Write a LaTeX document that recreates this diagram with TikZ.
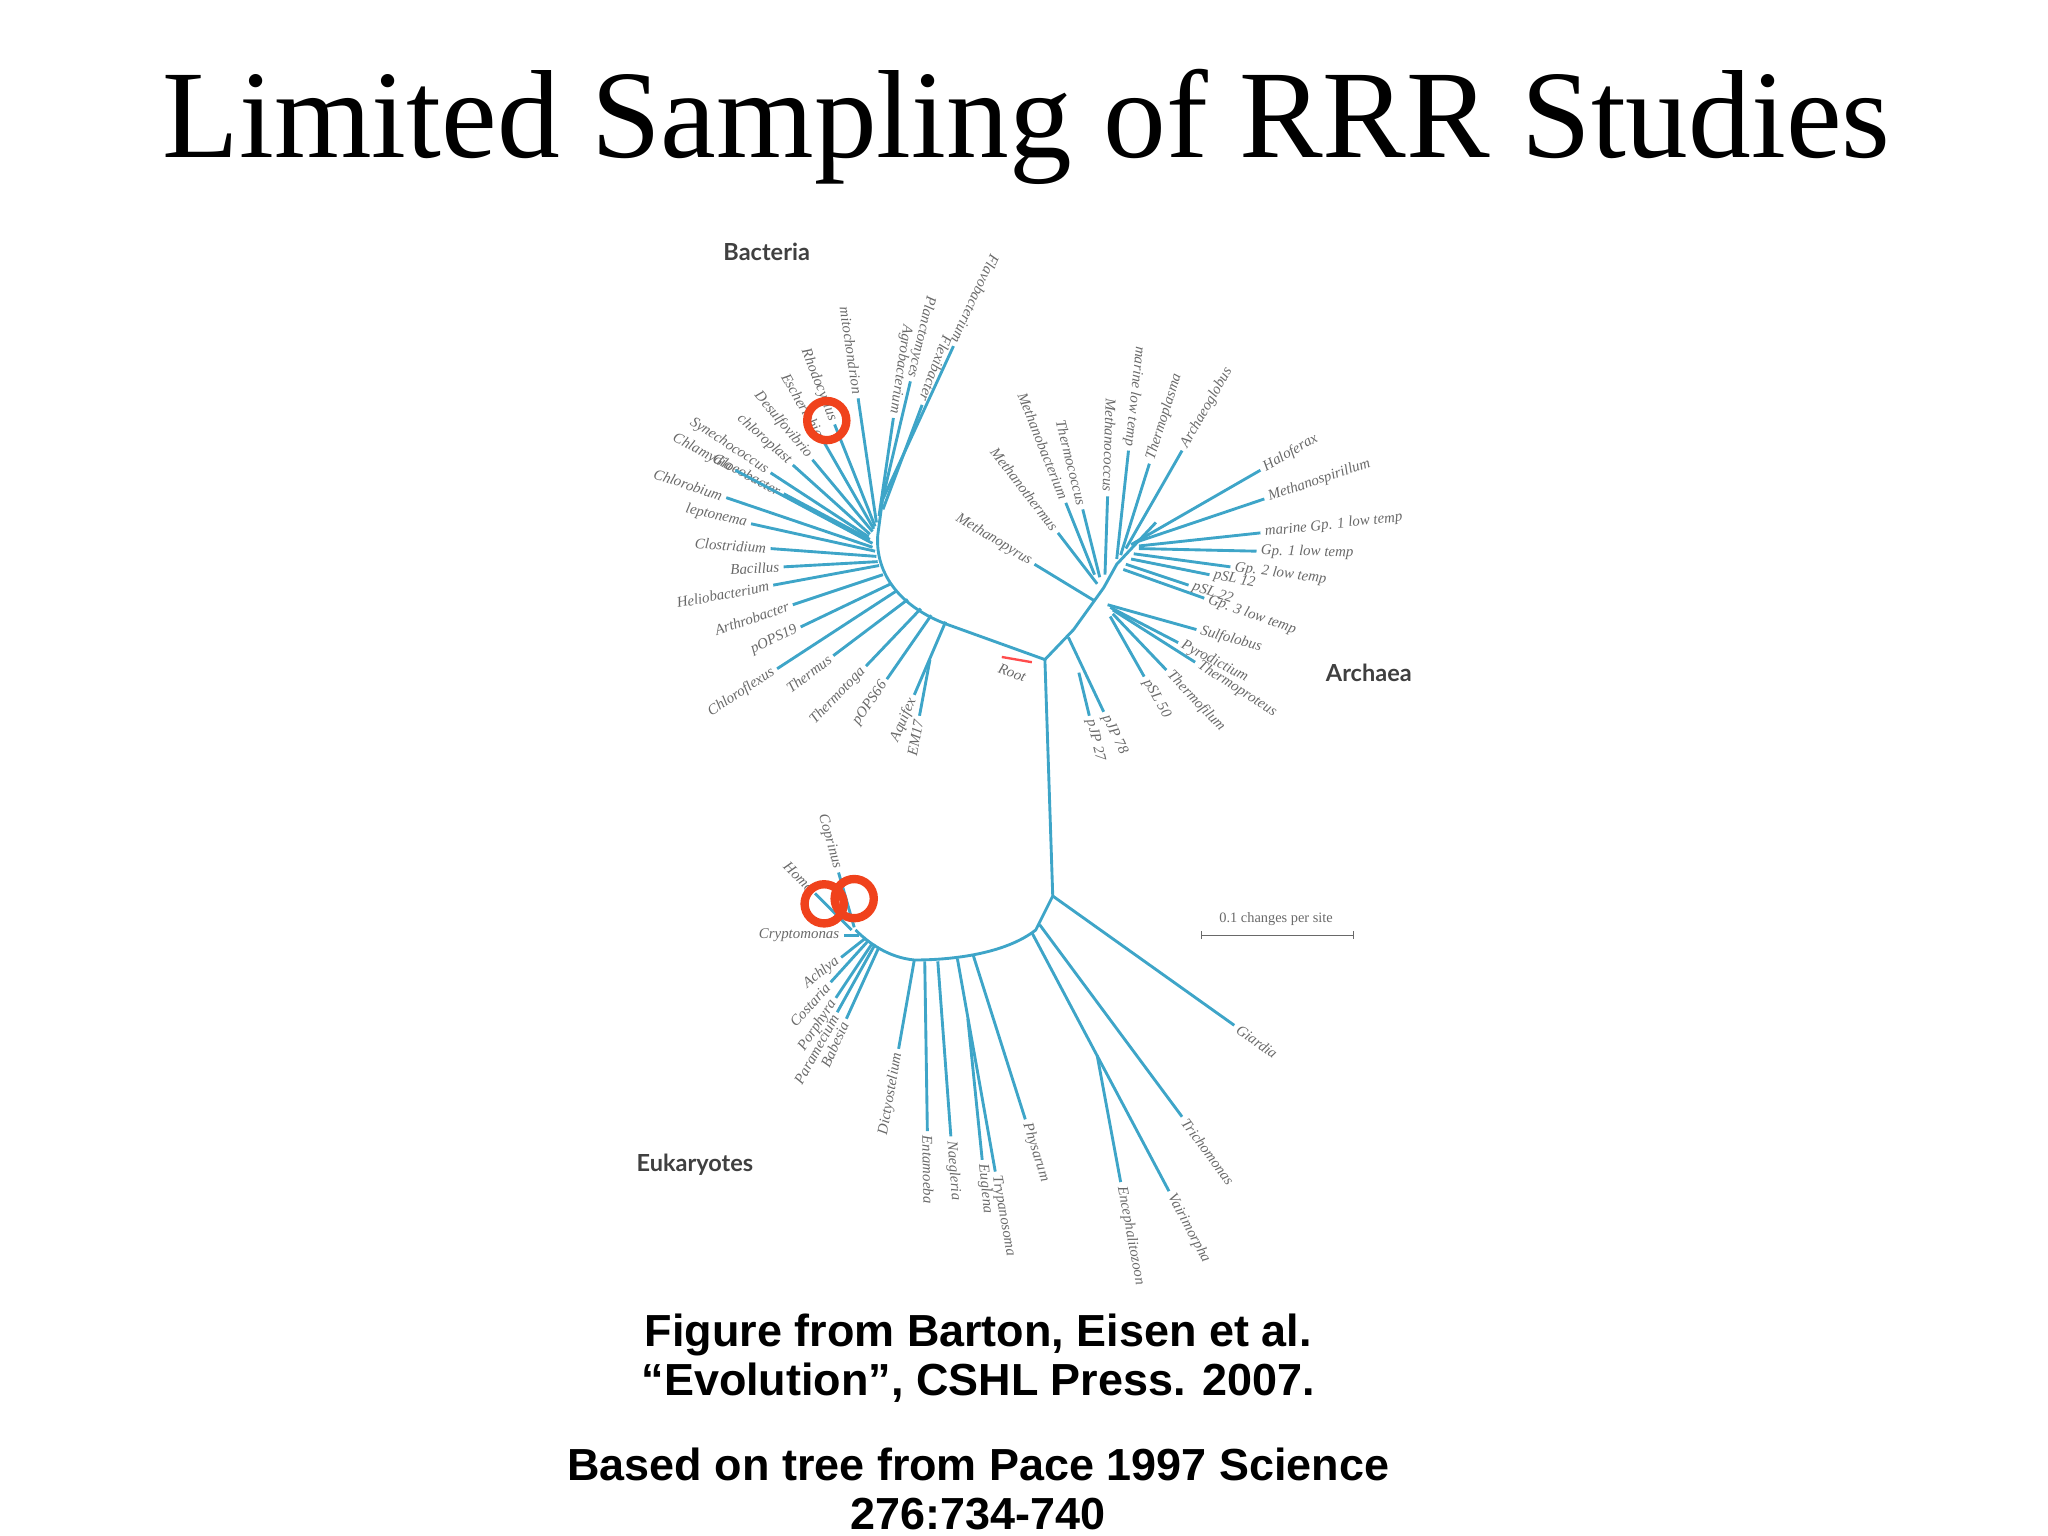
\documentclass[tikz,border=0pt]{standalone}
\usepackage{fontspec}
\setmainfont{Liberation Serif}
\newfontfamily\capfont{Liberation Sans}
\newfontfamily\grpfont{Lato}
\usetikzlibrary{calc}
\definecolor{brc}{RGB}{62,165,200}
\definecolor{labc}{RGB}{105,105,105}
\definecolor{ringc}{RGB}{240,66,28}
\tikzset{
  br/.style={draw=brc, line width=1.1pt},
  lab/.style={text=labc, font=\itshape\fontsize{5.7}{6.5}\selectfont, inner sep=1.2pt},
  grp/.style={text=black!75, font=\grpfont\bfseries\fontsize{9}{10}\selectfont},
  ring/.style={draw=ringc, line width=3.2pt, circle, minimum size=15pt, inner sep=0pt},
  captext/.style={font=\capfont\bfseries\fontsize{17.2}{19}\selectfont, align=center}
}
\newcommand\BL[3]{\draw[br] let \p1=($(#1)-(#2)$), \n1={atan2(\y1,\x1)} in (#1) -- (#2) node[lab,anchor=east,rotate=\n1]{#3};}
\newcommand\BO[3]{\draw[br] let \p1=($(#2)-(#1)$), \n1={atan2(\y1,\x1)} in (#1) -- (#2) node[lab,anchor=west,rotate=\n1]{#3};}
\begin{document}
\begin{tikzpicture}[x=0.5pt,y=-0.5pt]
\useasboundingbox (0,0) rectangle (1568,1176);
\node (title) at (786,97) {\fontsize{48}{52}\selectfont Limited Sampling of RRR Studies};
% group labels
\node[grp] (gB) at (587,193) {Bacteria};
\node[grp] (gA) at (1048,515) {Archaea};
\node[grp] (gE) at (532,892) {Eukaryotes};
% backbone
\coordinate (R) at (800,505);
\coordinate (E) at (806,686);
\coordinate (A1) at (822,482);
\coordinate (A2) at (845,450);
\coordinate (A3) at (855,432);
\draw[br] (676,380) -- (672,410) .. controls (670,440) and (690,465) .. (725,478) -- (R);
\draw[br] (R) -- (E);
\draw[br] (R) -- (A1) -- (A2) -- (A3) -- (885,400);
% root mark
\draw[red!70!white, line width=0.9pt] (767,503) -- (790,507);
\node[lab, rotate=-20] (root) at (775,515) {Root};
% Bacteria
\BL{676,382}{730,265}{Flavobacterium}
\BL{675,385}{697,292}{Planctomyces}
\BL{676,390}{706,310}{Flexibacter}
\BL{673,395}{684,320}{Agrobacterium}
\BL{671,400}{657,305}{mitochondrion}
\BL{670,403}{639,325}{Rhodocyclus}
\BL{669,405}{630,337}{Escherichia}
\BL{668,407}{622,352}{Desulfovibrio}
\BL{666,409}{607,356}{chloroplast}
\BL{665,411}{590,362}{Synechococcus}
\BL{666,413}{600,378}{Gloeobacter}
\BL{668,416}{563,360}{Chlamydia}
\BL{668,419}{556,381}{Chlorobium}
\BL{670,422}{575,401}{leptonema}
\BL{671,426}{590,420}{Clostridium}
\BL{672,430}{600,434}{Bacillus}
\BL{673,433}{592,448}{Heliobacterium}
\BL{676,440}{607,463}{Arthrobacter}
\BL{682,447}{613,480}{pOPS19}
\BL{687,452}{595,512}{Chloroflexus}
\BL{695,459}{638,502}{Thermus}
\BL{705,466}{663,510}{Thermotoga}
\BL{713,471}{679,520}{pOPS66}
\BL{724,476}{700,532}{Aquifex}
\BL{712,505}{704,548}{EM17}
% Archaea
\BL{838,460}{792,432}{Methanopyrus}
\BL{840,447}{810,408}{Methanothermus}
\BL{838,440}{816,385}{Methanobacterium}
\BL{842,442}{829,390}{Thermococcus}
\BL{846,440}{848,380}{Methanococcus}
\BL{855,428}{864,345}{marine low temp}
\BO{858,425}{880,355}{Thermoplasma}
\BO{862,420}{905,345}{Archaeoglobus}
\BO{866,417}{965,360}{Haloferax}
\BO{870,415}{968,382}{Methanospirillum}
\BO{872,418}{965,408}{marine Gp. 1 low temp}
\BO{872,420}{962,422}{Gp. 1 low temp}
\BO{868,424}{942,434}{Gp. 2 low temp}
\BO{866,428}{926,440}{pSL 12}
\BO{862,432}{910,448}{pSL 22}
\BO{860,436}{922,458}{Gp. 3 low temp}
\BO{848,463}{916,482}{Sulfolobus}
\BO{850,465}{902,492}{Pyrodictium}
\BO{852,467}{915,507}{Thermoproteus}
\BO{852,470}{893,513}{Thermofilum}
\BO{850,472}{876,518}{pSL 50}
\BO{818,488}{845,545}{pJP 78}
\BO{826,515}{834,548}{pJP 27}
% Eukaryotes backbone
\draw[br] (E) -- (793,712) .. controls (770,730) and (730,735) .. (700,735) .. controls (680,733) and (665,722) .. (655,712);
\BO{806,686}{945,785}{Giardia}
\BO{796,708}{905,855}{Trichomonas}
\BO{790,714}{895,912}{Vairimorpha}
\BO{840,808}{858,905}{Encephalitozoon}
\BO{745,731}{785,857}{Physarum}
\BO{733,734}{762,897}{Trypanosoma}
\BO{741,780}{752,888}{Euglena}
\BO{718,736}{728,870}{Naegleria}
\BO{708,736}{710,866}{Entamoeba}
\BL{700,735}{688,803}{Dictyostelium}
\BL{673,725}{648,780}{Babesia}
\BL{670,723}{641,775}{Paramecium}
\BL{668,722}{640,764}{Porphyra}
\BL{665,720}{636,752}{Costaria}
\BL{663,718}{644,733}{Achlya}
\BL{658,716}{646,716}{Cryptomonas}
\BL{652,712}{624,684}{Homo}
\BL{654,710}{642,668}{Coprinus}
% rings
\node[ring] (r1) at (633,322) {};
\node[ring] (r2) at (631,692) {};
\node[ring] (r3) at (654,688) {};
% scale bar
\node[lab, font=\fontsize{5.5}{6}\selectfont] (sc) at (977,704) {0.1 changes per site};
\coordinate (s1) at (920,716); \coordinate (s2) at (1036,716);
\draw[labc, line width=0.5pt] (s1) -- (s2);
\draw[labc, line width=0.5pt] (920,713) -- (920,719) (1036,713) -- (1036,719);
% caption
\node[captext] (c1) at (749,1040) {Figure from Barton, Eisen et al.\\“Evolution”, CSHL Press. 2007.};
\node[captext] (c2) at (749,1140) {Based on tree from Pace 1997 Science\\276:734-740};
\end{tikzpicture}
\end{document}
